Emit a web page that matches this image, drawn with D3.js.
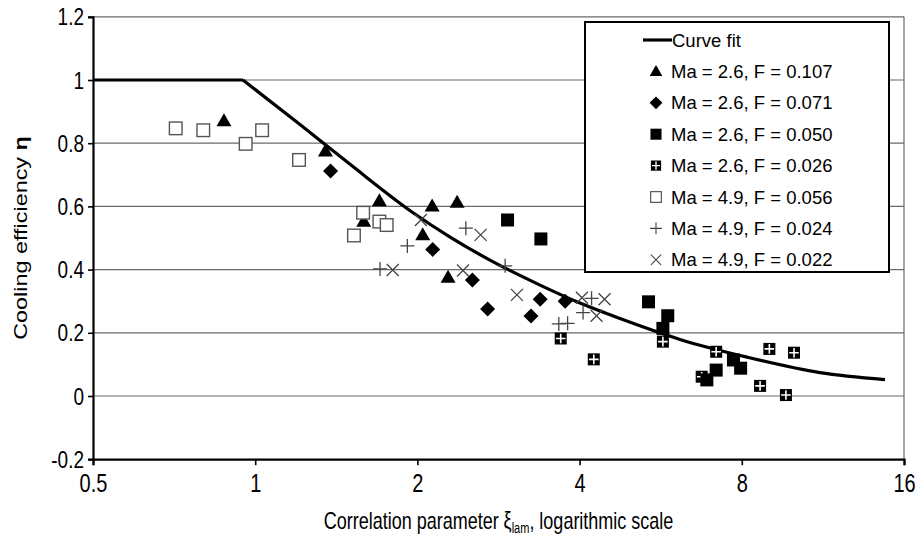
<!DOCTYPE html>
<html><head><meta charset="utf-8">
<script src="https://d3js.org/d3.v7.min.js"></script>
<style>body{margin:0;background:#fff}svg{display:block}text{font-family:"Liberation Sans",Arial,sans-serif;fill:#000}</style>
</head><body><svg id="c" width="917" height="536"></svg>
<script>
// ---- data ----
const xTicks = [0.5, 1, 2, 4, 8, 16];
const yTicks = [-0.2, 0, 0.2, 0.4, 0.6, 0.8, 1, 1.2];
const curveXi  = [0.5, 0.949, 1.211, 1.50, 1.963, 2.30, 2.727, 3.378, 4.007, 4.754, 6.144, 8.18, 11.17, 14.75];
const curveEta = [1.0, 1.0, 0.859, 0.733, 0.580, 0.503, 0.430, 0.351, 0.294, 0.245, 0.179, 0.123, 0.074, 0.052];
const tri107 = [[0.875,0.871],[1.35,0.775],[1.70,0.618],[1.59,0.553],[2.13,0.601],[2.37,0.613],[2.046,0.51],[2.28,0.376]];
const dia071 = [[1.38,0.712],[2.135,0.464],[2.53,0.367],[2.70,0.275],[3.25,0.253],[3.38,0.306],[3.76,0.30]];
const sq050  = [[2.94,0.557],[3.39,0.497],[5.37,0.298],[5.83,0.254],[5.71,0.214],[6.89,0.051],[7.17,0.082],[7.72,0.114],[7.96,0.088]];
const grid026 = [[3.69,0.182],[4.25,0.116],[5.71,0.172],[6.74,0.061],[7.17,0.14],[8.65,0.032],[9.0,0.149],[9.66,0.003],[10.0,0.137]];
const open056 = [[0.712,0.847],[0.801,0.841],[0.96,0.798],[1.03,0.841],[1.206,0.747],[1.586,0.58],[1.70,0.552],[1.754,0.541],[1.525,0.508]];
const plus024 = [[1.705,0.402],[1.916,0.475],[2.46,0.531],[2.91,0.412],[3.66,0.228],[3.80,0.23],[4.06,0.264],[4.21,0.309]];
const x022 = [[1.80,0.399],[2.03,0.557],[2.43,0.397],[2.62,0.51],[3.06,0.32],[4.04,0.311],[4.30,0.254],[4.45,0.306]];
const legendLabels = ["Curve fit","Ma = 2.6, F = 0.107","Ma = 2.6, F = 0.071","Ma = 2.6, F = 0.050","Ma = 2.6, F = 0.026","Ma = 4.9, F = 0.056","Ma = 4.9, F = 0.024","Ma = 4.9, F = 0.022"];

// ---- drawing ----
const svg = d3.select("#c");
const x = d3.scaleLog().base(2).domain([0.5, 16]).range([93, 904]);
const y = d3.scaleLinear().domain([-0.2, 1.2]).range([459.2, 16.8]);
const fmt = d => String(+d.toFixed(1));
const STRETCH = 1.25;

// gridlines
svg.append("g").selectAll("line").data(yTicks.filter(d => d > -0.2)).join("line")
  .attr("x1", x.range()[0]).attr("x2", x.range()[1])
  .attr("y1", d => y(d)).attr("y2", d => y(d))
  .attr("stroke", "#6a6a6a").attr("stroke-width", 1.2);
// right border
svg.append("line").attr("x1", x.range()[1]).attr("x2", x.range()[1])
  .attr("y1", y(1.2)).attr("y2", y(-0.2)).attr("stroke", "#6a6a6a").attr("stroke-width", 1.2);

// axes
const yAxis = svg.append("g").attr("transform", `translate(${x.range()[0]},0)`)
  .call(d3.axisLeft(y).tickValues(yTicks).tickFormat(fmt).tickSize(5).tickPadding(4));
const xAxis = svg.append("g").attr("transform", `translate(0,${y(-0.2)})`)
  .call(d3.axisBottom(x).tickValues(xTicks).tickFormat(d => String(d)).tickSize(6).tickPadding(6));
[yAxis, xAxis].forEach(a => {
  a.select(".domain").attr("stroke", "#000").attr("stroke-width", 2.2);
  a.selectAll(".tick line").attr("stroke", "#000").attr("stroke-width", 1.6);
});
yAxis.selectAll(".tick text").each(function() {
  d3.select(this).attr("font-size", 19).attr("fill", "#000").attr("x", null).attr("dy", null)
   .attr("y", 0).attr("transform", `translate(-9,8) scale(1,${STRETCH})`);
});
xAxis.selectAll(".tick text").each(function() {
  d3.select(this).attr("font-size", 20).attr("fill", "#000").attr("dy", null)
   .attr("y", 0).attr("transform", `translate(0,33) scale(1,${STRETCH})`);
});

// titles
svg.append("text").attr("transform", `translate(27,${(y(1.2)+y(-0.2))/2}) rotate(-90) scale(1.3,1)`)
  .attr("text-anchor", "middle").attr("font-size", 18)
  .html('Cooling efficiency <tspan font-weight="bold">η</tspan>');
svg.append("text").attr("transform", `translate(${(x.range()[0]+x.range()[1])/2},529) scale(1,1.3)`)
  .attr("text-anchor", "middle").attr("font-size", 18)
  .html('Correlation parameter ξ<tspan font-size="11" dy="3">lam</tspan><tspan dy="-3">, logarithmic scale</tspan>');

// curve: flat plateau (linear) + smooth decaying part
const curve = curveXi.map((d, i) => [d, curveEta[i]]);
const flatEnd = curveEta.lastIndexOf(1.0);
svg.append("path").datum(curve.slice(0, flatEnd + 1))
  .attr("d", d3.line().x(d => x(d[0])).y(d => y(d[1])))
  .attr("fill", "none").attr("stroke", "#000").attr("stroke-width", 3.2);
svg.append("path").datum(curve.slice(flatEnd))
  .attr("d", d3.line().x(d => x(d[0])).y(d => y(d[1])).curve(d3.curveMonotoneX))
  .attr("fill", "none").attr("stroke", "#000").attr("stroke-width", 3.2).attr("stroke-linejoin", "round");

// marker painters
const markers = {
  tri: (g) => g.append("path").attr("d", "M0,-7.5L7.5,5.5L-7.5,5.5Z").attr("fill", "#000"),
  dia: (g) => g.append("path").attr("d", "M0,-7.5L7.5,0L0,7.5L-7.5,0Z").attr("fill", "#000"),
  sq: (g) => g.append("rect").attr("x", -6.5).attr("y", -6.5).attr("width", 13).attr("height", 13).attr("fill", "#000"),
  grid: (g) => { g.append("rect").attr("x", -6).attr("y", -6).attr("width", 12).attr("height", 12).attr("fill", "#000");
    g.append("path").attr("d", "M0,-4.8V4.8M-4.8,0H4.8").attr("stroke", "#fff").attr("stroke-width", 1.6); },
  open: (g) => g.append("rect").attr("x", -6.3).attr("y", -6.3).attr("width", 12.6).attr("height", 12.6).attr("fill", "#fff").attr("stroke", "#555").attr("stroke-width", 1.4),
  plus: (g) => g.append("path").attr("d", "M-7,0H7M0,-7V7").attr("stroke", "#444").attr("stroke-width", 1.3),
  x: (g) => g.append("path").attr("d", "M-6,-6L6,6M-6,6L6,-6").attr("stroke", "#444").attr("stroke-width", 1.3)
};
const series = [
  {data: tri107, m: "tri"}, {data: dia071, m: "dia"}, {data: grid026, m: "grid"}, {data: sq050, m: "sq"},
  {data: open056, m: "open"}, {data: plus024, m: "plus"}, {data: x022, m: "x"}
];
series.forEach(s => {
  svg.append("g").selectAll("g").data(s.data).join("g")
    .attr("transform", d => `translate(${x(d[0])},${y(d[1])})`)
    .each(function() { markers[s.m](d3.select(this)); });
});

// legend
const lg = svg.append("g");
lg.append("rect").attr("x", 585).attr("y", 22).attr("width", 304).attr("height", 250)
  .attr("fill", "#fff").attr("stroke", "#000").attr("stroke-width", 2);
const legendMarks = [null, "tri", "dia", "sq", "grid", "open", "plus", "x"];
legendLabels.forEach((lab, i) => {
  const cy = 40 + i * 31.4;
  const g = lg.append("g");
  if (i === 0) {
    g.append("line").attr("x1", 643).attr("x2", 672).attr("y1", cy).attr("y2", cy).attr("stroke", "#000").attr("stroke-width", 3.2);
  } else {
    const mg = g.append("g").attr("transform", `translate(656,${cy}) scale(0.85)`);
    markers[legendMarks[i]](mg);
  }
  g.append("text").attr("transform", `translate(${i === 0 ? 672 : 671},${cy + 6.5})`)
    .attr("font-size", 18.5).text(lab);
});
</script></body></html>
